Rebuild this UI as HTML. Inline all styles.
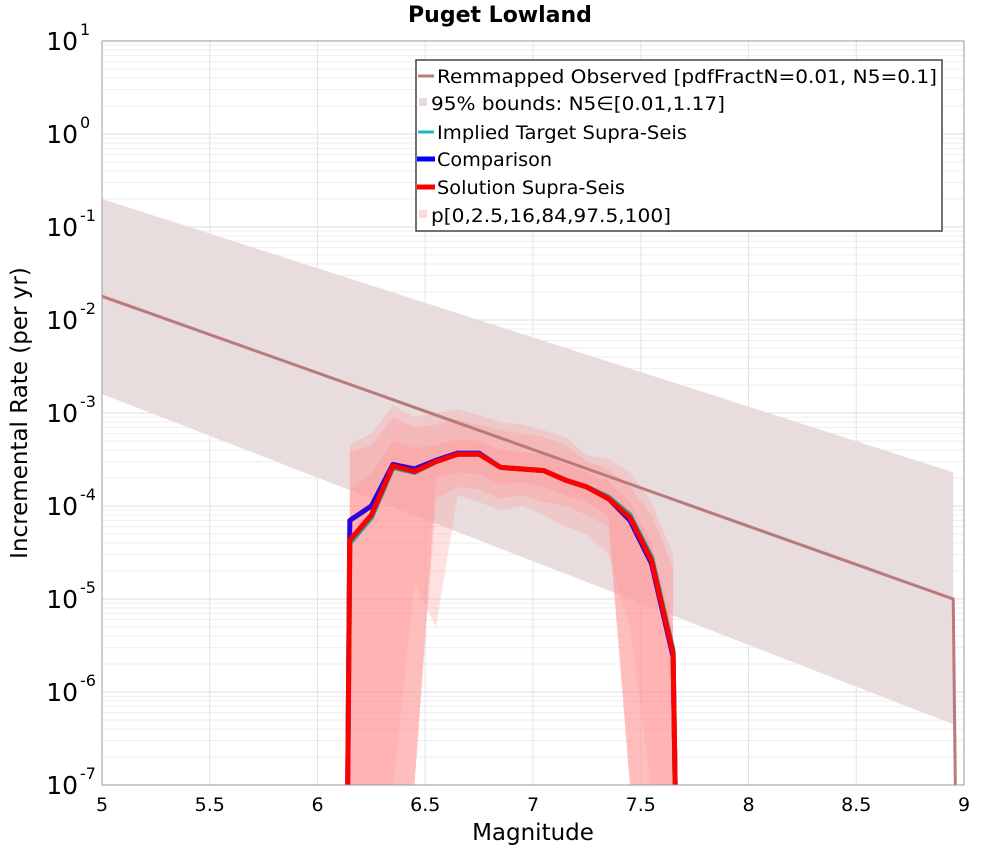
<!DOCTYPE html>
<html><head><meta charset="utf-8"><style>
html,body{margin:0;background:#fff;overflow:hidden;width:1000px;height:850px}
svg{display:block}
svg text{font-family:"DejaVu Sans","Liberation Sans",sans-serif}
</style></head><body>
<svg id="chart" width="1000" height="850" viewBox="0 0 1000 850" xmlns="http://www.w3.org/2000/svg">
<text x="500" y="22" text-anchor="middle" font-size="22" font-weight="bold">Puget Lowland</text>
<g id="grid"></g>
<defs><clipPath id="clip"><rect x="102" y="41" width="862" height="744"/></clipPath></defs>
<g id="plot" clip-path="url(#clip)"></g>
<rect x="102" y="41" width="862" height="744" fill="none" stroke="#999" stroke-width="1"/>
<g id="axes"></g>
<text x="533" y="840" text-anchor="middle" font-size="23">Magnitude</text>
<text transform="translate(27,413) rotate(-90)" text-anchor="middle" font-size="23">Incremental Rate (per yr)</text>
<g>
<rect x="416" y="60" width="526" height="171" fill="#fff" stroke="#444" stroke-width="1.5"/>
<line x1="418" y1="76" x2="434" y2="76" stroke="#b87a7a" stroke-width="3"/>
<text x="437" y="83" font-size="19" textLength="500" lengthAdjust="spacingAndGlyphs">Remmapped Observed [pdfFractN=0.01, N5=0.1]</text>
<rect x="419" y="98" width="8" height="8" fill="#e8dada"/>
<text x="431" y="110" font-size="19" textLength="294" lengthAdjust="spacingAndGlyphs">95% bounds: N5∈[0.01,1.17]</text>
<line x1="418" y1="132" x2="434" y2="132" stroke="#20b8b8" stroke-width="3"/>
<text x="437" y="139" font-size="19" textLength="250" lengthAdjust="spacingAndGlyphs">Implied Target Supra-Seis</text>
<line x1="417" y1="159" x2="435" y2="159" stroke="#0000ff" stroke-width="5"/>
<text x="437" y="166" font-size="19" textLength="115" lengthAdjust="spacingAndGlyphs">Comparison</text>
<line x1="417" y1="187" x2="435" y2="187" stroke="#ff0000" stroke-width="5"/>
<text x="437" y="194" font-size="19" textLength="188" lengthAdjust="spacingAndGlyphs">Solution Supra-Seis</text>
<rect x="419" y="210" width="8" height="8" fill="#ffd8d8"/>
<text x="431" y="222" font-size="19" textLength="240" lengthAdjust="spacingAndGlyphs">p[0,2.5,16,84,97.5,100]</text>
</g>
</svg>
<script>
const mags=[6.15,6.25,6.35,6.45,6.55,6.65,6.75,6.85,6.95,7.05,7.15,7.25,7.35,7.45,7.55,7.65];
const solution=[4.3e-5,8e-5,2.7e-4,2.35e-4,3.0e-4,3.6e-4,3.6e-4,2.6e-4,2.5e-4,2.4e-4,1.9e-4,1.6e-4,1.2e-4,7.5e-5,2.6e-5,2.6e-6];
const comparison=[7e-5,1.0e-4,2.8e-4,2.5e-4,3.1e-4,3.7e-4,3.7e-4,2.6e-4,2.5e-4,2.4e-4,1.9e-4,1.6e-4,1.2e-4,7e-5,2.4e-5,2.4e-6];
const target=[4.0e-5,7.5e-5,2.6e-4,2.3e-4,3.0e-4,3.6e-4,3.6e-4,2.6e-4,2.5e-4,2.4e-4,1.9e-4,1.6e-4,1.25e-4,8e-5,2.8e-5,2.8e-6];
const p100=[4.6e-4,6e-4,1.2e-3,9e-4,1e-3,1.1e-3,9.5e-4,8e-4,7.5e-4,6.5e-4,5.5e-4,3.5e-4,3.2e-4,2.3e-4,1.1e-4,3e-5];
const p0=[0,0,0,1.5e-5,5e-6,1.3e-4,1.1e-4,9e-5,1e-4,8e-5,6e-5,5e-5,3e-5,5e-6,0,0];
const p975=[3.8e-4,4.5e-4,9e-4,7e-4,7.5e-4,8.5e-4,7.5e-4,6.5e-4,6e-4,5.5e-4,4.5e-4,3e-4,2.5e-4,1.6e-4,8e-5,2.2e-5];
const p25=[0,0,0,1e-7,1.2e-4,1.6e-4,1.5e-4,1.2e-4,1.3e-4,1.1e-4,1e-4,8e-5,6e-5,1e-7,0,0];
const p84=[1.5e-4,2.2e-4,5e-4,4.2e-4,4.5e-4,5.2e-4,5e-4,4e-4,3.8e-4,3.6e-4,2.8e-4,2.3e-4,1.8e-4,1.1e-4,4e-5,5e-6];
const p16=[0,0,0,1e-7,2e-4,2.3e-4,2.2e-4,1.7e-4,1.8e-4,1.6e-4,1.3e-4,1.1e-4,8e-5,1e-7,0,0];
const obsMags=[5,8.95,8.96];
const obsRate=[1.8e-2,1.0e-5,0];
const obsUpper=[0.2,2.3e-4];
const obsLower=[1.6e-3,4.5e-7];
const xTicks=[5,5.5,6,6.5,7,7.5,8,8.5,9];
const yExps=[1,0,-1,-2,-3,-4,-5,-6,-7];

const NS="http://www.w3.org/2000/svg";
const X=m=>102+(m-5)*(862/4);
const Y=v=>{const l=v>0?Math.log10(v):-12;return 41+(1-l)*93;};
function mk(tag,attrs,parent){const e=document.createElementNS(NS,tag);for(const k in attrs)e.setAttribute(k,attrs[k]);parent.appendChild(e);return e;}
const grid=document.getElementById('grid'),plot=document.getElementById('plot'),axes=document.getElementById('axes');
for(let e=1;e>-7;e--){for(let k=1;k<10;k++){const y=Y(k*Math.pow(10,e-1));
 const g=mk('line',{x1:102,x2:964,y1:y,y2:y,stroke:k===1?'#ddd':'#eee','stroke-width':1},grid);
 }}
xTicks.forEach(t=>{const g=mk('line',{x1:X(t),x2:X(t),y1:41,y2:785,stroke:'#e4e4e4'},grid);
 
 const tx=mk('text',{x:X(t),y:811,'text-anchor':'middle','font-size':19},axes);tx.textContent=String(t);
 });
yExps.forEach(e=>{const y=Y(Math.pow(10,e));
 const tx=mk('text',{x:78,y:y+9,'text-anchor':'end','font-size':25},axes);tx.textContent='10';
 
 const s=mk('text',{x:80,y:y-6,'font-size':16},axes);s.textContent=String(e);
 });
let d='M'+X(obsMags[0])+','+Y(obsUpper[0])+'L'+X(obsMags[1])+','+Y(obsUpper[1])+'L'+X(obsMags[1])+','+Y(obsLower[1])+'L'+X(obsMags[0])+','+Y(obsLower[0])+'Z';
let b=mk('path',{d:d,fill:'#e8dcdd'},plot);
function band(lo,hi,fill,op,name){let s='';mags.forEach((m,i)=>{s+=(i?'L':'M')+X(m)+','+Y(hi[i]);});
 for(let i=mags.length-1;i>=0;i--)s+='L'+X(mags[i])+','+Math.min(Y(lo[i]),790);s+='Z';
 const p=mk('path',{d:s,fill:fill,'fill-opacity':op},plot);}
band(p0,p100,'#ff9a9a',0.3,'band-p0-p100');
band(p25,p975,'#ff9a9a',0.35,'band-p2.5-p97.5');
band(p16,p84,'#ff9a9a',0.45,'band-p16-p84');
function line(xs,ys,col,w,name){let s='';xs.forEach((m,i)=>{s+=(i?'L':'M')+X(m)+','+Math.min(Y(ys[i]),790);});
 const p=mk('path',{d:s,fill:'none',stroke:col,'stroke-width':w,'stroke-linejoin':'round'},plot);}
line(obsMags,obsRate,'#b87a7a',3,'remapped-observed-line');
const ext=a=>[0].concat(a).concat([0]);const em=[6.14].concat(mags).concat([7.66]);
line(em,ext(comparison),'#3000e0',5,'comparison-line');
line(em,ext(target),'#20a0a0',5,'implied-target-line');
line(em,ext(solution),'#ff0000',5,'solution-line');
</script>
</body></html>
